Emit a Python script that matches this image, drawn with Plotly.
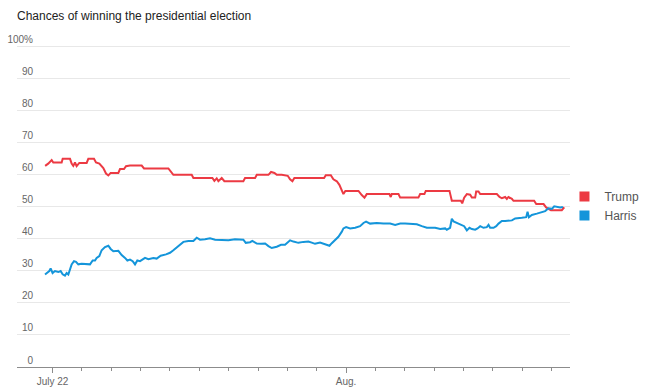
import pandas as pd
import plotly.graph_objects as go

title_text = "Chances of winning the presidential election"

trump_time = [
    "2024-07-21 18:00", "2024-07-21 20:30", "2024-07-21 23:20", "2024-07-22 00:40", "2024-07-22 07:30",
    "2024-07-22 08:20", "2024-07-22 14:20", "2024-07-22 15:40", "2024-07-22 17:00", "2024-07-22 18:24",
    "2024-07-22 19:45", "2024-07-22 21:56", "2024-07-23 03:56", "2024-07-23 05:18", "2024-07-23 09:56",
    "2024-07-23 11:34", "2024-07-23 14:18", "2024-07-23 17:34", "2024-07-23 19:45", "2024-07-23 21:39",
    "2024-07-23 23:34", "2024-07-24 05:50", "2024-07-24 07:12", "2024-07-24 10:28", "2024-07-24 12:06",
    "2024-07-24 15:22", "2024-07-25 00:55", "2024-07-25 02:49", "2024-07-25 22:43", "2024-07-26 00:37",
    "2024-07-26 02:48",
    "2024-07-26 17:48", "2024-07-26 19:10", "2024-07-27 10:42", "2024-07-27 12:20", "2024-07-27 14:14",
    "2024-07-27 15:36", "2024-07-27 18:20", "2024-07-27 20:30", "2024-07-28 12:00", "2024-07-28 13:24",
    "2024-07-28 21:36", "2024-07-28 23:00", "2024-07-29 08:30", "2024-07-29 10:40", "2024-07-29 13:24",
    "2024-07-29 15:18", "2024-07-29 19:24", "2024-07-30 00:18", "2024-07-30 02:12", "2024-07-30 04:06",
    "2024-07-30 05:42",
    "2024-07-31 06:00", "2024-07-31 07:24", "2024-07-31 11:30", "2024-07-31 13:36", "2024-07-31 16:24",
    "2024-07-31 18:30", "2024-07-31 20:30", "2024-07-31 21:48", "2024-07-31 23:24",
    "2024-08-01 10:06", "2024-08-01 12:48", "2024-08-01 15:00", "2024-08-01 16:54",
    "2024-08-02 11:24", "2024-08-02 12:30", "2024-08-02 13:18", "2024-08-02 18:48", "2024-08-02 20:12",
    "2024-08-03 11:06", "2024-08-03 12:30", "2024-08-03 16:00", "2024-08-03 17:06",
    "2024-08-04 12:30", "2024-08-04 14:24", "2024-08-04 21:48", "2024-08-04 22:54",
    "2024-08-05 00:30", "2024-08-05 02:42", "2024-08-05 05:24", "2024-08-05 06:48", "2024-08-05 09:30",
    "2024-08-05 10:18", "2024-08-05 12:12", "2024-08-05 13:36",
    "2024-08-06 03:12", "2024-08-06 05:24", "2024-08-06 07:18", "2024-08-06 10:00", "2024-08-06 11:24",
    "2024-08-06 12:42", "2024-08-06 15:30", "2024-08-06 16:48",
    "2024-08-07 09:42", "2024-08-07 11:24", "2024-08-07 17:24", "2024-08-07 19:30", "2024-08-07 21:24",
    "2024-08-07 23:24",
    "2024-08-08 08:18", "2024-08-08 09:42", "2024-08-08 10:18",
]
trump_pct = [
    62.7, 63.4, 64.5, 63.75, 63.75, 64.9, 64.9, 63.4, 62.7, 63.75,
    62.6, 63.6, 63.6, 64.9, 64.9, 63.75, 63.4, 62.0, 60.3, 59.7,
    60.5, 60.5, 61.7, 61.7, 62.6, 62.8, 62.8, 61.9, 61.9, 60.9,
    59.9,
    59.9, 58.9, 58.9, 58.0, 58.8, 57.9, 58.9, 57.9, 57.9, 58.9,
    58.9, 59.9, 59.9, 60.8, 60.5, 59.9, 59.9, 59.6, 58.5, 57.9,
    58.9,
    58.9, 59.8, 59.8, 58.5, 57.9, 56.8, 54.9, 53.9, 54.9,
    54.9, 53.6, 52.8, 53.9,
    53.9, 53.0, 53.9, 53.9, 52.8,
    52.8, 53.9, 53.9, 54.9,
    54.9, 51.8, 51.8, 51.0,
    52.8, 53.9, 53.7, 52.8, 52.8, 54.7, 54.7, 53.9,
    53.9, 53.0, 52.6, 53.0, 52.4, 53.0, 52.4, 51.8,
    51.8, 50.8, 50.8, 49.75, 49.3, 48.9,
    48.9, 49.5, 49.8,
]

harris_time = [
    "2024-07-21 17:54", "2024-07-21 19:12", "2024-07-21 21:24", "2024-07-21 22:30", "2024-07-22 00:06",
    "2024-07-22 02:00", "2024-07-22 04:48", "2024-07-22 06:40", "2024-07-22 08:18", "2024-07-22 10:13",
    "2024-07-22 11:35", "2024-07-22 12:57", "2024-07-22 14:19", "2024-07-22 15:40", "2024-07-22 17:35",
    "2024-07-22 19:13", "2024-07-22 21:07", "2024-07-22 23:51", "2024-07-23 06:40", "2024-07-23 08:51",
    "2024-07-23 10:45", "2024-07-23 12:06", "2024-07-23 14:17", "2024-07-23 16:12", "2024-07-23 18:55",
    "2024-07-23 21:39", "2024-07-23 23:34", "2024-07-24 01:44", "2024-07-24 05:50", "2024-07-24 08:33",
    "2024-07-24 11:17", "2024-07-24 13:12", "2024-07-24 15:22", "2024-07-24 17:33", "2024-07-24 19:28",
    "2024-07-24 21:22", "2024-07-24 23:33", "2024-07-25 03:38", "2024-07-25 06:21", "2024-07-25 10:26",
    "2024-07-25 13:10", "2024-07-25 16:26", "2024-07-25 20:48", "2024-07-26 00:04", "2024-07-26 02:48",
    "2024-07-26 05:32", "2024-07-26 08:16", "2024-07-26 11:00", "2024-07-26 15:06", "2024-07-26 19:10",
    "2024-07-26 21:54", "2024-07-27 00:36", "2024-07-27 04:42", "2024-07-27 08:48", "2024-07-27 12:54",
    "2024-07-27 18:20", "2024-07-27 23:48", "2024-07-28 05:12", "2024-07-28 12:00", "2024-07-28 14:00",
    "2024-07-28 17:30", "2024-07-28 19:24", "2024-07-28 23:00", "2024-07-29 02:30", "2024-07-29 05:48",
    "2024-07-29 08:30", "2024-07-29 11:12", "2024-07-29 15:18", "2024-07-29 18:48", "2024-07-29 22:06",
    "2024-07-30 02:12", "2024-07-30 04:54", "2024-07-30 09:00", "2024-07-30 13:06", "2024-07-30 17:12",
    "2024-07-30 20:30", "2024-07-30 22:36", "2024-07-31 02:42", "2024-07-31 05:30", "2024-07-31 08:12",
    "2024-07-31 10:24", "2024-07-31 12:18", "2024-07-31 15:00", "2024-07-31 17:42", "2024-07-31 20:30",
    "2024-07-31 21:48", "2024-08-01 00:00", "2024-08-01 03:18", "2024-08-01 07:24", "2024-08-01 11:24",
    "2024-08-01 14:12", "2024-08-01 16:18", "2024-08-01 19:36", "2024-08-02 01:06", "2024-08-02 06:30",
    "2024-08-02 12:00", "2024-08-02 16:06", "2024-08-02 20:12", "2024-08-03 00:12", "2024-08-03 04:18",
    "2024-08-03 09:48", "2024-08-03 13:54", "2024-08-03 18:00", "2024-08-04 00:48", "2024-08-04 04:54",
    "2024-08-04 09:00", "2024-08-04 10:18", "2024-08-04 13:00", "2024-08-04 14:24", "2024-08-04 15:48",
    "2024-08-04 18:30", "2024-08-04 21:48", "2024-08-05 00:30", "2024-08-05 02:42", "2024-08-05 04:48",
    "2024-08-05 06:48", "2024-08-05 09:30", "2024-08-05 11:24", "2024-08-05 13:36", "2024-08-05 16:18",
    "2024-08-05 19:00", "2024-08-05 20:24", "2024-08-05 21:42", "2024-08-06 00:30", "2024-08-06 02:42",
    "2024-08-06 04:36", "2024-08-06 07:18", "2024-08-06 10:00", "2024-08-06 12:42", "2024-08-06 15:30",
    "2024-08-06 18:12", "2024-08-06 20:54", "2024-08-06 23:36", "2024-08-07 03:12", "2024-08-07 04:18",
    "2024-08-07 05:24", "2024-08-07 07:48", "2024-08-07 11:54", "2024-08-07 16:00", "2024-08-07 18:42",
    "2024-08-07 21:24", "2024-08-08 00:12", "2024-08-08 02:06", "2024-08-08 04:48", "2024-08-08 07:00",
    "2024-08-08 09:12",
]
harris_pct = [
    28.85, 29.3, 29.9, 30.7, 29.3,
    29.9, 29.6, 29.9, 28.9, 28.5,
    29.3, 28.85, 30.9, 32.0, 33.0,
    32.8, 32.0, 32.2, 32.0, 33.2,
    33.2, 34.0, 34.6, 36.4, 37.4,
    37.8, 36.8, 36.1, 36.2, 34.9,
    34.0, 33.2, 33.5, 33.0, 32.0,
    33.2, 33.0, 34.0, 33.6, 34.0,
    33.8, 34.7, 35.1, 35.6, 36.4,
    37.2, 38.2, 39.0, 39.3, 39.3,
    40.3, 39.7, 39.8, 40.1, 39.7,
    39.7, 39.5, 39.8, 39.7, 38.7,
    38.9, 39.3, 38.5, 38.4, 38.5,
    37.7, 37.1, 37.5, 38.1, 38.1,
    39.5, 39.1, 38.7, 39.0, 39.1,
    38.7, 38.4, 38.8, 38.4, 38.1,
    37.8, 38.6, 39.7, 40.6, 42.2,
    43.2, 43.6, 43.2, 43.4, 43.9,
    44.9, 45.3, 44.7, 44.9, 44.7,
    44.7, 44.3, 44.7, 44.7, 44.7,
    44.5, 43.9, 43.4, 43.4, 43.0,
    43.2, 42.8, 43.4, 46.2, 45.4,
    45.0, 44.5, 43.9, 42.6, 43.4,
    43.0, 42.8, 43.2, 43.9, 43.4,
    43.6, 44.3, 43.4, 43.4, 43.9,
    44.7, 45.5, 45.5, 45.7, 45.7,
    46.3, 46.3, 46.5, 46.7, 48.4,
    46.7, 47.4, 47.8, 48.2, 48.6,
    49.5, 49.3, 50.1, 49.9, 49.7,
    49.9,
]

y_tick_vals = [0, 10, 20, 30, 40, 50, 60, 70, 80, 90, 100]
y_tick_text = ["0", "10", "20", "30", "40", "50", "60", "70", "80", "90", "100%"]
x_tick_vals = ["2024-07-22", "2024-08-01"]
x_tick_text = ["July 22", "Aug."]
x_minor_first, x_minor_last = "2024-07-22", "2024-08-08"
x_range = ["2024-07-20 19:00", "2024-08-08 15:00"]
y_range = [0, 101]

RED = "#ec3a43"
BLUE = "#1495da"
FONT = "Liberation Sans, Arial, sans-serif"

fig = go.Figure()
fig.add_trace(go.Scatter(x=pd.to_datetime(trump_time), y=trump_pct, mode="lines",
                         line=dict(color=RED, width=2), showlegend=False, hoverinfo="skip"))
fig.add_trace(go.Scatter(x=pd.to_datetime(harris_time), y=harris_pct, mode="lines",
                         line=dict(color=BLUE, width=2), showlegend=False, hoverinfo="skip"))
# legend entries (square swatches)
fig.add_trace(go.Scatter(x=[None], y=[None], mode="markers", name="Trump",
                         marker=dict(symbol="square", size=10, color=RED)))
fig.add_trace(go.Scatter(x=[None], y=[None], mode="markers", name="Harris",
                         marker=dict(symbol="square", size=10, color=BLUE)))

fig.update_layout(
    width=652, height=392,
    margin=dict(l=17, r=82, t=43, b=25, autoexpand=False),
    paper_bgcolor="white", plot_bgcolor="white",
    font=dict(family=FONT, color="#666666", size=10),
    title=dict(text=title_text, x=17 / 652, xanchor="left", y=1 - 16 / 392, yanchor="middle",
               font=dict(family=FONT, size=12, color="#222222")),
    legend=dict(x=0.99, xanchor="left", y=0.497, yanchor="middle",
                font=dict(family=FONT, size=12, color="#555555"),
                bgcolor="rgba(0,0,0,0)", itemwidth=30, tracegroupgap=0),
    showlegend=True,
)
fig.update_xaxes(
    type="date", range=pd.to_datetime(x_range), automargin=False,
    showgrid=False, zeroline=False,
    showline=True, linecolor="#8c8c8c", linewidth=1,
    tickmode="array", tickvals=pd.to_datetime(x_tick_vals), ticktext=x_tick_text,
    ticks="outside", ticklen=5, tickcolor="#8c8c8c", tickwidth=1,
    tickfont=dict(family=FONT, size=10, color="#666666"),
    minor=dict(tickmode="array",
               tickvals=pd.date_range(x_minor_first, x_minor_last, freq="D"),
               ticks="outside", ticklen=3, tickcolor="#8c8c8c", showgrid=False),
)
fig.update_yaxes(
    range=y_range, automargin=False,
    tickmode="array", tickvals=y_tick_vals, ticktext=y_tick_text,
    showgrid=True, gridcolor="#e8e8e8", gridwidth=1,
    zeroline=False, showline=False, ticks="",
    ticklabelposition="outside top", ticklabelstandoff=-17,
    tickfont=dict(family=FONT, size=10, color="#666666"),
)

fig.write_html("out.html", config={"displayModeBar": False},
               post_script="document.body.style.margin='0';")
